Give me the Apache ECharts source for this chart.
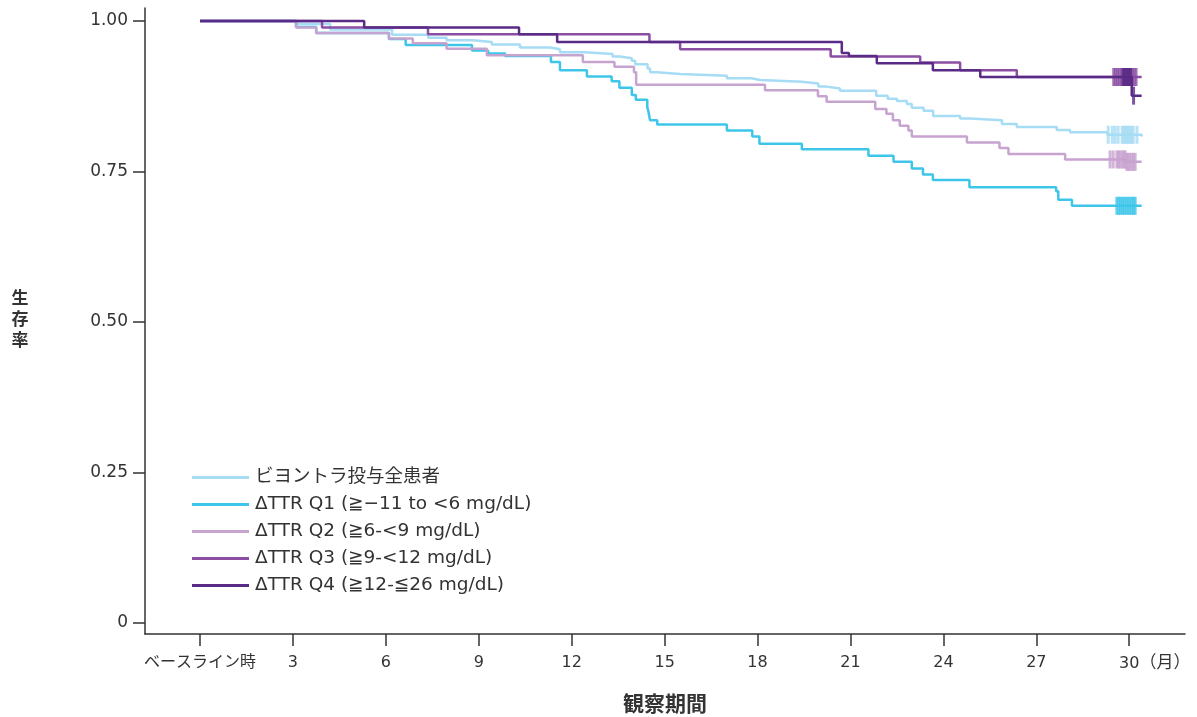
<!DOCTYPE html>
<html>
<head>
<meta charset="utf-8">
<script src="https://cdn.jsdelivr.net/npm/echarts@6/dist/echarts.min.js"></script>
<style>
  html, body { margin: 0; padding: 0; background: #fff; }
  #chart { width: 1197px; height: 717px; }
</style>
</head>
<body>
<div id="chart"></div>
<script>
// Kaplan-Meier survival curves by ΔTTR quartile (month, survival probability)
const seriesNames = [
  'ビヨントラ投与全患者',
  'ΔTTR Q1 (≧−11 to <6 mg/dL)',
  'ΔTTR Q2 (≧6-<9 mg/dL)',
  'ΔTTR Q3 (≧9-<12 mg/dL)',
  'ΔTTR Q4 (≧12-≦26 mg/dL)'
];
const seriesColors = ['#a6dcf4', '#3ec5ea', '#c7a3d0', '#8b4ea3', '#5a2b86'];

const allPatients = [[0,1],[3.1,0.995],[4.2,0.986],[6.2,0.977],[7.37,0.972],[7.96,0.968],[8.82,0.965],[9.42,0.961],[10.33,0.956],[11.3,0.953],[11.62,0.948],[12.43,0.945],[13.32,0.941],[13.56,0.938],[13.94,0.934],[14.05,0.928],[14.45,0.921],[14.53,0.915],[14.74,0.912],[15.5,0.909],[17.01,0.905],[17.8,0.902],[18.08,0.899],[19.43,0.896],[19.96,0.891],[20.23,0.888],[20.66,0.884],[21.83,0.876],[22.2,0.871],[22.5,0.867],[22.82,0.862],[22.98,0.856],[23.36,0.851],[23.67,0.842],[24.54,0.838],[24.86,0.835],[25.89,0.829],[26.37,0.824],[27.66,0.819],[28.09,0.815],[29.3,0.811],[30.4,0.808]];
const q1 = [[0,1],[3.1,0.99],[3.75,0.98],[6.1,0.97],[6.64,0.96],[8.78,0.951],[9.3,0.946],[9.85,0.942],[11.33,0.932],[11.62,0.918],[12.49,0.908],[13.29,0.9],[13.54,0.889],[13.94,0.877],[14.07,0.869],[14.44,0.857],[14.48,0.849],[14.53,0.835],[14.76,0.828],[17.01,0.818],[17.83,0.808],[18.06,0.796],[19.43,0.787],[21.58,0.776],[22.39,0.766],[22.98,0.755],[23.34,0.745],[23.66,0.736],[24.84,0.724],[27.64,0.717],[27.71,0.703],[28.15,0.693],[30.4,0.693]];
const q2 = [[0,1],[3.1,0.989],[3.75,0.98],[6.1,0.971],[6.87,0.963],[7.96,0.954],[9.26,0.943],[12.36,0.932],[13.38,0.924],[14.01,0.915],[14.08,0.894],[18.24,0.885],[19.95,0.875],[20.23,0.866],[21.8,0.854],[22.16,0.846],[22.37,0.835],[22.59,0.826],[22.87,0.818],[22.98,0.808],[24.76,0.798],[25.81,0.789],[26.1,0.779],[27.93,0.77],[29.9,0.766],[30.4,0.766]];
const q3 = [[0,1],[3.94,0.989],[7.36,0.978],[14.51,0.965],[15.5,0.953],[20.36,0.941],[23.25,0.931],[24.54,0.918],[26.37,0.907],[30.4,0.907]];
const q4 = [[0,1],[5.3,0.989],[10.3,0.978],[11.53,0.965],[20.72,0.947],[20.95,0.942],[21.85,0.93],[23.66,0.918],[25.19,0.907],[30.08,0.876],[30.4,0.876]];

// censoring times (months) shown as tick marks on each curve
const censorAll = [29.32, 29.45, 29.54, 29.64, 29.77, 29.82, 29.87, 29.92, 29.97, 30.02, 30.07, 30.13, 30.25];
const censorQ1 = [29.6, 29.66, 29.72, 29.78, 29.84, 29.9, 29.96, 30.02, 30.08, 30.14, 30.19];
const censorQ2 = [29.38, 29.48, 29.6, 29.65, 29.7, 29.77, 29.82, 29.87, 29.92, 29.97, 30.02, 30.08, 30.14, 30.19];
const censorQ3 = [29.5, 29.56, 29.62, 29.68, 29.74, 29.8, 29.86, 29.92, 29.98, 30.04, 30.1, 30.16, 30.22];
const censorQ4 = [29.8, 29.85, 29.9, 29.95, 30.0, 30.05, 30.14];

const xTickValues = [0, 3, 6, 9, 12, 15, 18, 21, 24, 27, 30];
const xTickLabels = ['ベースライン時', '3', '6', '9', '12', '15', '18', '21', '24', '27', '30'];
const yTickValues = [0, 0.25, 0.5, 0.75, 1];
const yTickLabels = ['0', '0.25', '0.50', '0.75', '1.00'];

const curves = [allPatients, q1, q2, q3, q4];
const censors = [censorAll, censorQ1, censorQ2, censorQ3, censorQ4];

// survival value of a step curve at time t
function survivalAt(steps, t) {
  let v = steps[0][1];
  for (const [m, s] of steps) { if (m <= t) v = s; else break; }
  return v;
}

const FONT = '"DejaVu Sans", "Noto Sans CJK JP", sans-serif';
const axisColor = '#333';
const textColor = '#333';

const series = [];
curves.forEach((steps, i) => {
  series.push({
    name: seriesNames[i],
    type: 'line',
    step: 'end',
    symbol: 'none',
    data: steps,
    z: 2 + i,
    lineStyle: { color: seriesColors[i], width: 2.5 },
    itemStyle: { color: seriesColors[i] }
  });
});
censors.forEach((times, i) => {
  series.push({
    name: seriesNames[i] + ' censored',
    type: 'scatter',
    symbol: 'rect',
    symbolSize: [3, 18],
    silent: true,
    z: 2 + i,
    itemStyle: { color: seriesColors[i] },
    data: times.map(t => [t, survivalAt(curves[i], t)])
  });
});

const chart = echarts.init(document.getElementById('chart'), null, { renderer: 'canvas' });
chart.setOption({
  animation: false,
  backgroundColor: '#fff',
  textStyle: { fontFamily: FONT },
  grid: { left: 145, right: 12, top: 8, bottom: 83, containLabel: false, outerBoundsMode: 'none' },
  legend: {
    data: seriesNames,
    orient: 'vertical',
    left: 187,
    top: 462,
    icon: 'rect',
    itemWidth: 57,
    itemHeight: 3,
    itemGap: 6,
    textStyle: { fontFamily: FONT, fontSize: 18.5, color: textColor, lineHeight: 21, padding: [0, 0, 0, 1] }
  },
  xAxis: {
    type: 'value',
    min: -1.776,
    max: 31.8,
    name: '観察期間',
    nameLocation: 'middle',
    nameGap: 72,
    nameTextStyle: { fontFamily: FONT, fontSize: 21, fontWeight: 'bold', color: textColor, verticalAlign: 'middle' },
    axisLine: { onZero: false, lineStyle: { color: axisColor, width: 1.5 } },
    axisTick: { customValues: xTickValues, length: 12, lineStyle: { color: axisColor, width: 1.5 } },
    axisLabel: {
      customValues: xTickValues,
      margin: 21,
      fontFamily: FONT,
      fontSize: 16,
      color: textColor,
      formatter: v => {
        const i = xTickValues.indexOf(v);
        if (v === 30) return '{pad|}' + xTickLabels[i] + '{u|（月）}';
        return i >= 0 ? xTickLabels[i] : '';
      },
      rich: {
        pad: { width: 51, fontSize: 17, fontFamily: FONT },
        u: { width: 51, fontSize: 17, fontFamily: FONT, color: textColor }
      }
    },
    splitLine: { show: false }
  },
  yAxis: {
    type: 'value',
    min: -0.0183,
    max: 1.0216,
    name: '生\n存\n率',
    nameLocation: 'middle',
    nameRotate: 0,
    nameGap: 125,
    nameTextStyle: { fontFamily: FONT, fontSize: 17, fontWeight: 'bold', color: textColor, align: 'center', verticalAlign: 'middle', lineHeight: 21 },
    axisLine: { show: true, onZero: false, lineStyle: { color: axisColor, width: 1.5 } },
    axisTick: { show: true, customValues: yTickValues, length: 12, lineStyle: { color: axisColor, width: 1.5 } },
    axisLabel: {
      customValues: yTickValues,
      margin: 17,
      fontFamily: FONT,
      fontSize: 17,
      color: textColor,
      formatter: v => {
        const i = yTickValues.indexOf(v);
        return i >= 0 ? yTickLabels[i] : '';
      }
    },
    splitLine: { show: false }
  },
  series: series
});
</script>
</body>
</html>
